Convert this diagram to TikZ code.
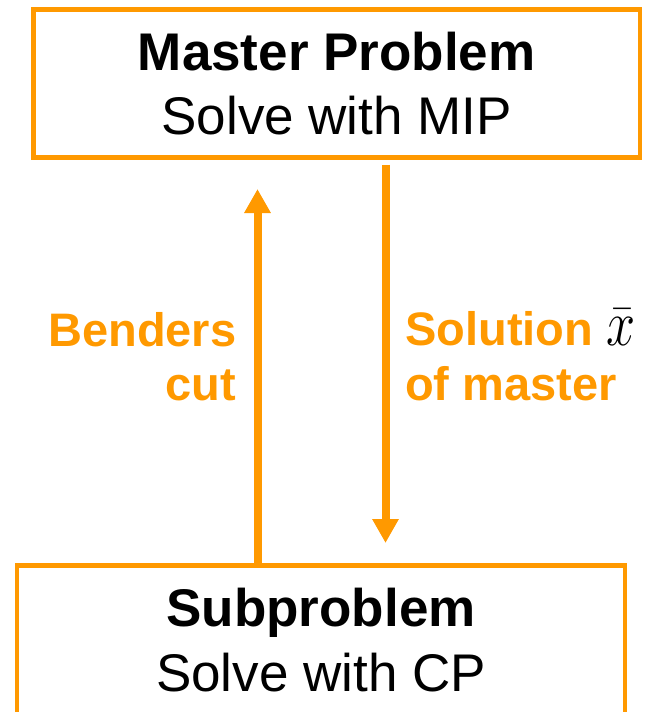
\documentclass[tikz,border=0pt]{standalone}
\usepackage{fix-cm}
\usepackage{fontspec}
\setmainfont{Liberation Sans}
\usepackage{graphicx}
\usetikzlibrary{arrows.meta}
\definecolor{org}{RGB}{255,153,0}
\begin{document}
\begin{tikzpicture}[x=1pt,y=-1pt,
  box/.style={draw=org, line width=4.7pt, inner sep=0pt, align=center, text=black},
  lbl/.style={text=org, inner sep=0pt, font=\fontsize{47}{54.5}\selectfont\bfseries},
  arr/.style={draw=org, line width=8pt, -{Triangle[width=25pt,length=24pt]}}]
\useasboundingbox (0,0) rectangle (656,712);
\node[box, minimum width=606.7pt, minimum height=148.3pt, font=\fontsize{53}{64}\selectfont] (master) at (336.7,83.3) {\textbf{Master Problem}\\Solve with MIP};
\node[box, minimum width=608pt, minimum height=149pt, font=\fontsize{53}{64.5}\selectfont] (sub) at (321,640) {\textbf{Subproblem}\\Solve with CP};
\coordinate (uptip) at (257.5,189);
\coordinate (downtip) at (385.5,543);
\draw[arr] (sub.north -| uptip) -- (uptip);
\draw[arr, shorten <=5pt] (master.south -| downtip) -- (downtip);
\node[lbl, align=right, anchor=base east] (bend) at (236.5,400.7) {Benders\\cut};
\node[lbl, align=left, anchor=base west] (sol) at (405,400) {Solution \textcolor{black}{\scalebox{0.9}[1.12]{\fontsize{58}{58}\selectfont$\bar{x}$}}\\of master};
\end{tikzpicture}
\end{document}
